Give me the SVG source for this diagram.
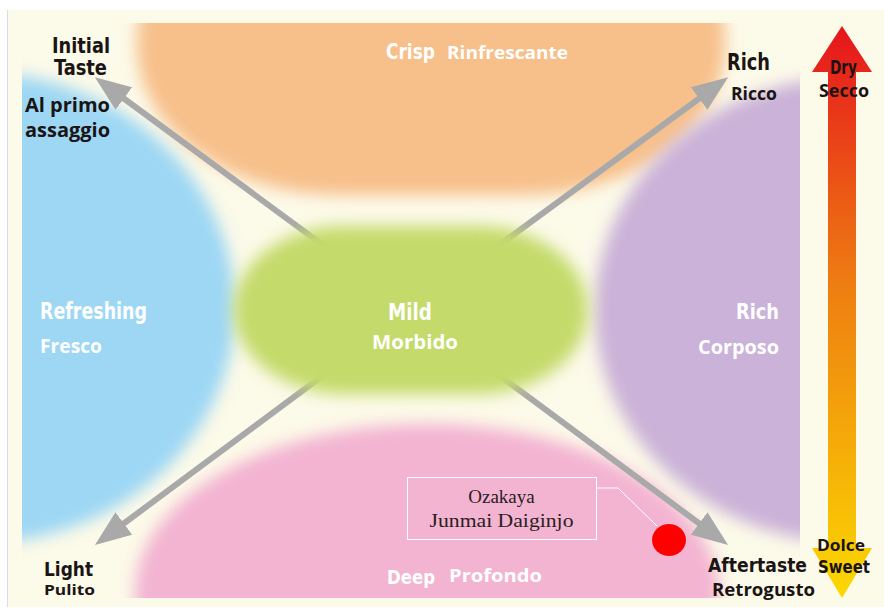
<svg xmlns="http://www.w3.org/2000/svg" width="884" height="611" viewBox="0 0 884 611">
<style>
.cb{font-family:"Liberation Sans Narrow","DejaVu Sans Condensed","Roboto Condensed",sans-serif;font-weight:bold;}
.lb{font-family:"Open Sans",Lato,sans-serif;font-weight:bold;}
.sr{font-family:"Liberation Serif",serif;fill:#2a2020;}
.w{fill:#ffffff;}
.k{fill:#1a1414;}
.arr{stroke:#a9a9a9;stroke-width:6;fill:none;marker-end:url(#head);}
</style>
<defs>
<filter id="blur" x="-20%" y="-20%" width="140%" height="140%"><feGaussianBlur stdDeviation="8"/></filter>
<marker id="head" viewBox="0 0 36 28" refX="11" refY="14" markerWidth="36" markerHeight="28" markerUnits="userSpaceOnUse" orient="auto"><path d="M0,0 L36,14 L0,28 Z" fill="#a9a9a9"/></marker>
<linearGradient id="dryg" x1="0" y1="26" x2="0" y2="598" gradientUnits="userSpaceOnUse">
<stop offset="0" stop-color="#e6141c"/><stop offset="0.45" stop-color="#ee7d12"/><stop offset="1" stop-color="#fbd800"/>
</linearGradient>
<clipPath id="cTop"><rect x="0" y="23" width="884" height="600"/></clipPath>
<clipPath id="cLeft"><rect x="22" y="0" width="884" height="611"/></clipPath>
<clipPath id="cRight"><rect x="0" y="0" width="800" height="611"/></clipPath>
<clipPath id="cBot"><rect x="0" y="0" width="884" height="598"/></clipPath>
</defs>
<rect x="0" y="0" width="884" height="611" fill="#ffffff"/>
<rect x="8" y="10" width="876" height="597" fill="#fcfae9"/>
<line x1="7.5" y1="10" x2="7.5" y2="607" stroke="#d8dcec" stroke-width="1"/>

<g id="crisp"><g clip-path="url(#cTop)"><rect x="137" y="-110" width="588" height="305" rx="200" ry="150" fill="#f7c08b" filter="url(#blur)"/></g>
<text class="cb w" x="386" y="59" font-size="22" textLength="49" lengthAdjust="spacingAndGlyphs">Crisp</text>
<text class="lb w" x="447" y="59" font-size="18" textLength="121" lengthAdjust="spacingAndGlyphs">Rinfrescante</text></g>

<g id="refreshing"><g clip-path="url(#cLeft)"><ellipse cx="-20" cy="308" rx="255" ry="235" fill="#9dd7f4" filter="url(#blur)"/></g>
<text class="cb w" x="40" y="319" font-size="23" textLength="107" lengthAdjust="spacingAndGlyphs">Refreshing</text>
<text class="lb w" x="40" y="353" font-size="19" textLength="62" lengthAdjust="spacingAndGlyphs">Fresco</text></g>

<g id="rich"><g clip-path="url(#cRight)"><ellipse cx="852" cy="310" rx="257" ry="233" fill="#cbb2d8" filter="url(#blur)"/></g>
<text class="cb w" x="736" y="319" font-size="22" textLength="43" lengthAdjust="spacingAndGlyphs">Rich</text>
<text class="lb w" x="698" y="354" font-size="19" textLength="81" lengthAdjust="spacingAndGlyphs">Corposo</text></g>

<g id="deep"><g clip-path="url(#cBot)"><ellipse cx="427" cy="592" rx="292" ry="168" fill="#f3b4d2" filter="url(#blur)"/></g>
<text class="cb w" x="387" y="584" font-size="20" textLength="48" lengthAdjust="spacingAndGlyphs">Deep</text>
<text class="lb w" x="449" y="582" font-size="18" textLength="93" lengthAdjust="spacingAndGlyphs">Profondo</text></g>

<g id="connectors">
<line class="arr" x1="411" y1="310" x2="115" y2="92"/>
<line class="arr" x1="411" y1="310" x2="708" y2="92"/>
<line class="arr" x1="411" y1="310" x2="115" y2="530"/>
<line class="arr" x1="411" y1="310" x2="708" y2="530"/>
<polyline points="597,488 618,488 657,526" fill="none" stroke="#ffffff" stroke-width="1"/>
</g>

<g id="mild"><rect x="234" y="226" width="354" height="168" rx="110" ry="84" fill="#c4da6a" filter="url(#blur)"/>
<text class="cb w" x="388" y="320" font-size="23" textLength="44" lengthAdjust="spacingAndGlyphs">Mild</text>
<text class="lb w" x="372" y="349" font-size="19" textLength="86" lengthAdjust="spacingAndGlyphs">Morbido</text></g>

<g id="initial">
<text class="cb k" x="52" y="53" font-size="21" textLength="58" lengthAdjust="spacingAndGlyphs">Initial</text>
<text class="cb k" x="54" y="75" font-size="21" textLength="53" lengthAdjust="spacingAndGlyphs">Taste</text>
<text class="lb k" x="25" y="112" font-size="19" textLength="85" lengthAdjust="spacingAndGlyphs">Al primo</text>
<text class="lb k" x="25" y="137" font-size="19" textLength="85" lengthAdjust="spacingAndGlyphs">assaggio</text>
</g>

<g id="rich-corner">
<text class="cb k" x="727" y="70" font-size="23" textLength="43" lengthAdjust="spacingAndGlyphs">Rich</text>
<text class="lb k" x="731" y="100" font-size="18" textLength="46" lengthAdjust="spacingAndGlyphs">Ricco</text>
</g>

<g id="light">
<text class="cb k" x="44" y="576" font-size="19" textLength="49" lengthAdjust="spacingAndGlyphs">Light</text>
<text class="lb k" x="44" y="595" font-size="15" textLength="51" lengthAdjust="spacingAndGlyphs">Pulito</text>
</g>

<g id="aftertaste">
<text class="cb k" x="708" y="572" font-size="20" textLength="99" lengthAdjust="spacingAndGlyphs">Aftertaste</text>
<text class="lb k" x="712" y="596" font-size="17" textLength="103" lengthAdjust="spacingAndGlyphs">Retrogusto</text>
</g>

<g id="scale">
<path d="M842,26 L872,72 L856,72 L856,548 L872,548 L842,598 L812,548 L828,548 L828,72 L812,72 Z" fill="url(#dryg)"/>
<text class="cb k" x="830" y="74" font-size="19" textLength="27" lengthAdjust="spacingAndGlyphs">Dry</text>
<text class="lb k" x="819" y="97" font-size="17" textLength="50" lengthAdjust="spacingAndGlyphs">Secco</text>
<text class="lb k" x="817" y="551" font-size="16" textLength="48" lengthAdjust="spacingAndGlyphs">Dolce</text>
<text class="cb k" x="818" y="573" font-size="18" textLength="52" lengthAdjust="spacingAndGlyphs">Sweet</text>
</g>

<g id="ozakaya">
<rect x="407.5" y="477.5" width="189" height="62" fill="none" stroke="#ffffff" stroke-width="1"/>
<text class="sr" x="501.5" y="503" font-size="19" text-anchor="middle">Ozakaya</text>
<text class="sr" x="501.5" y="527" font-size="19" text-anchor="middle" textLength="144" lengthAdjust="spacingAndGlyphs">Junmai Daiginjo</text>
<ellipse cx="669" cy="540" rx="17" ry="16" fill="#ff0000"/>
</g>
</svg>
